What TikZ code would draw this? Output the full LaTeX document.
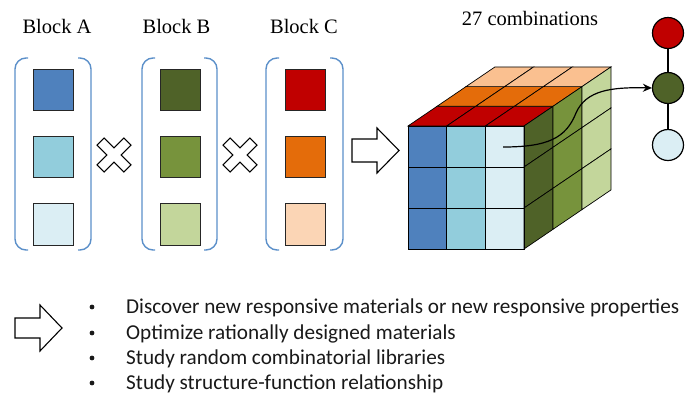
\documentclass[tikz,border=0pt]{standalone}
\usepackage{fontspec}
\setmainfont{Liberation Serif}
\newfontfamily\calib{Carlito}
\usetikzlibrary{arrows.meta}
\definecolor{bA1}{HTML}{4F81BD}
\definecolor{bA2}{HTML}{92CDDC}
\definecolor{bA3}{HTML}{DBEEF4}
\definecolor{bB1}{HTML}{4F6228}
\definecolor{bB2}{HTML}{77933C}
\definecolor{bB3}{HTML}{C3D69B}
\definecolor{bC1}{HTML}{C00000}
\definecolor{bC2}{HTML}{E46C0A}
\definecolor{bC3}{HTML}{FBD5B5}
\definecolor{bC3c}{HTML}{FAC090}
\definecolor{brk}{HTML}{5B8FC9}
\tikzset{
  sq/.style={draw=black!85, line width=1pt},
  brack/.style={draw=brk, line width=1.4pt, rounded corners=11pt},
  hollow/.style={draw=black, line width=1.1pt, fill=white, line join=miter},
  ball/.style={circle, draw=black, line width=1.2pt, minimum size=31pt, inner sep=0pt},
  celledge/.style={draw=black, line width=0.7pt},
  lbl/.style={font=\fontsize{20.5}{24}\selectfont, anchor=base},
  bul/.style={font=\calib\fontsize{21.2}{25}\selectfont, anchor=base west, inner sep=0pt, text=black!90},
}
\begin{document}
\begin{tikzpicture}[x=1pt,y=-1pt]
\useasboundingbox (0,0) rectangle (685,405);
% labels
\node[lbl] (la) at (57,33) {Block A};
\node[lbl] (lb) at (176.5,33) {Block B};
\node[lbl] (lc) at (304,33) {Block C};
\node[lbl] (lcomb) at (530,25) {27 combinations};
% brackets
\foreach \l/\r in {15/91, 142/217, 266/343}{
  \draw[brack] (\l+13,58) -- (\l,58) -- (\l,250) -- (\l+13,250);
  \draw[brack] (\r-13,58) -- (\r,58) -- (\r,250) -- (\r-13,250);
}
% squares
\foreach \x/\c in {33/bA, 160/bB, 285/bC}{
  \filldraw[sq, fill=\c1] (\x,69) rectangle ++(40,41);
  \filldraw[sq, fill=\c2] (\x,136) rectangle ++(40,41);
  \filldraw[sq, fill=\c3] (\x,203) rectangle ++(40,42);
}
% crosses
\foreach \cx in {114,240}{
  \begin{scope}[shift={(\cx,155)}, rotate=45]
    \draw[hollow] (5,-5) -- (19,-5) -- (19,5) -- (5,5) -- (5,19) -- (-5,19) -- (-5,5) -- (-19,5) -- (-19,-5) -- (-5,-5) -- (-5,-19) -- (5,-19) -- cycle;
  \end{scope}
}
% middle hollow arrow
\draw[hollow] (352,139) -- (377,139) -- (377,128) -- (399,150.5) -- (377,173) -- (377,162) -- (352,162) -- cycle;
% cube
\def\w{38.7}\def\h{41}\def\dx{29}\def\dy{-19.7}
\foreach \i/\c in {0/bA1,1/bA2,2/bA3}{
  \foreach \j in {0,1,2}{
    \filldraw[celledge, fill=\c] (408+\i*\w,126+\j*\h) rectangle ++(\w,\h);
  }
}
\foreach \k/\c in {0/bC1,1/bC2,2/bC3c}{
  \foreach \i in {0,1,2}{
    \filldraw[celledge, fill=\c] (408+\i*\w+\k*\dx,126+\k*\dy) -- ++(\w,0) -- ++(\dx,\dy) -- ++(-\w,0) -- cycle;
  }
}
\foreach \k/\c in {0/bB1,1/bB2,2/bB3}{
  \foreach \j in {0,1,2}{
    \filldraw[celledge, fill=\c] (524+\k*\dx,126+\j*\h+\k*\dy) -- ++(\dx,\dy) -- ++(0,\h) -- ++(-\dx,-\dy) -- cycle;
  }
}
\draw[line width=0.9pt] (408,126) rectangle (524,249);
% circles
\node[ball, fill=bC1] (c1) at (668,33) {};
\node[ball, fill=bB1] (c2) at (668,88) {};
\node[ball, fill=bA3] (c3) at (668,145) {};
\draw[line width=1.6pt] (c1) -- (c2);
\draw[line width=1.6pt] (c2) -- (c3);
\coordinate (cs) at (503,147);
\coordinate (cm) at (576,113);
\draw[line width=1.2pt, -{Stealth[length=9pt,width=8pt]}] (cs) .. controls (548,147) and (566,138) .. (cm) .. controls (586,90) and (612,87) .. (c2.west);
% bottom arrow
\draw[hollow] (15,318) -- (40,318) -- (40,305) -- (62,328) -- (40,351) -- (40,338) -- (15,338) -- cycle;
% bullets
\foreach \y/\t [count=\n] in {313/Discover new responsive materials or new responsive properties, 339/Optimize rationally designed materials, 364/Study random combinatorial libraries, 389/Study structure-function relationship}{
  \fill[black!90] (92,\y-6) circle (2.4);
  \node[bul] (t\n) at (126,\y) {\t};
}
\end{tikzpicture}
\end{document}
